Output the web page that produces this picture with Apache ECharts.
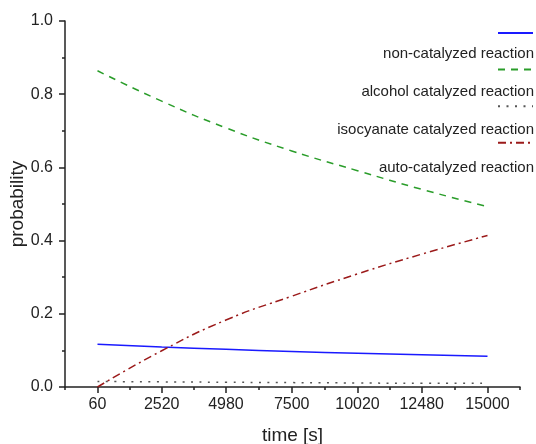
<!DOCTYPE html>
<html>
<head>
<meta charset="utf-8">
<script src="https://cdn.jsdelivr.net/npm/echarts@6/dist/echarts.min.js"></script>
<style>html,body{margin:0;padding:0;background:#fff}#c{width:536px;height:444px}</style>
</head>
<body>
<div id="c"></div>
<script>
// Data
var timeTicks = [60, 2520, 4980, 7500, 10020, 12480, 15000];
var nonCatalyzed = [0.117, 0.109, 0.103, 0.097, 0.092, 0.088, 0.084];
var alcoholCatalyzed = [0.864, 0.781, 0.708, 0.645, 0.591, 0.540, 0.493];
var isocyanateCatalyzed = [0.015, 0.014, 0.013, 0.012, 0.011, 0.010, 0.010];
var autoCatalyzed = [0.000, 0.099, 0.183, 0.248, 0.309, 0.363, 0.414];
var seriesNames = ['non-catalyzed reaction', 'alcohol catalyzed reaction', 'isocyanate catalyzed reaction', 'auto-catalyzed reaction'];

var xMin = -1185, xMax = 16245;
var minorX = [xMin];
for (var i = 0; i < timeTicks.length - 1; i++) minorX.push((timeTicks[i] + timeTicks[i + 1]) / 2);
minorX.push(xMax);

function pairs(vals) { return timeTicks.map(function (t, i) { return [t, vals[i]]; }); }

var FONT = "'Liberation Sans', Arial, sans-serif";
var TXT = '#222';
var chart = echarts.init(document.getElementById('c'), null, { renderer: 'canvas' });
var option = {
  backgroundColor: '#fff',
  animation: false,
  textStyle: { fontFamily: FONT, color: TXT },
  grid: { left: 65, right: 16, top: 21, bottom: 57, containLabel: false, outerBoundsMode: 'none' },
  legend: [
    {
      data: seriesNames,
      orient: 'vertical', right: 2, top: 26, itemGap: 24, padding: 0,
      itemWidth: 35, itemHeight: 14, align: 'left',
      itemStyle: { opacity: 0 },
      formatter: function () { return ''; },
      textStyle: { fontSize: 1 }
    },
    {
      data: seriesNames,
      orient: 'vertical', right: -3, top: 46, itemGap: 23, padding: 0,
      itemWidth: 0, itemHeight: 15, align: 'right', icon: 'rect',
      itemStyle: { opacity: 0 },
      textStyle: { fontFamily: FONT, fontSize: 15, color: TXT, lineHeight: 15 }
    }
  ],
  xAxis: [
    {
      type: 'value', min: xMin, max: xMax,
      name: 'time [s]', nameLocation: 'middle', nameGap: 39, nameMoveOverlap: false,
      nameTextStyle: { fontFamily: FONT, fontSize: 19, color: TXT },
      axisLine: { show: true, onZero: false, lineStyle: { color: TXT, width: 1.5 } },
      axisTick: { show: true, customValues: timeTicks, length: 6, lineStyle: { color: TXT, width: 1.5 } },
      axisLabel: { show: true, customValues: timeTicks, margin: 10, fontFamily: FONT, fontSize: 16, color: TXT,
        formatter: function (v) { return String(v); } },
      splitLine: { show: false }
    },
    {
      type: 'value', min: xMin, max: xMax, position: 'bottom',
      axisLine: { show: false, onZero: false },
      axisTick: { show: true, customValues: minorX, length: 3, lineStyle: { color: TXT, width: 1.5 } },
      axisLabel: { show: false },
      splitLine: { show: false }
    }
  ],
  yAxis: {
    type: 'value', min: 0, max: 1, interval: 0.2,
    name: 'probability', nameLocation: 'middle', nameGap: 38, nameMoveOverlap: false,
    nameTextStyle: { fontFamily: FONT, fontSize: 19, color: TXT },
    axisLine: { show: true, onZero: false, lineStyle: { color: TXT, width: 1.5 } },
    axisTick: { show: true, length: 6, lineStyle: { color: TXT, width: 1.5 } },
    minorTick: { show: true, splitNumber: 2, length: 3, lineStyle: { color: TXT, width: 1.5 } },
    axisLabel: { margin: 12, fontFamily: FONT, fontSize: 16, color: TXT,
      formatter: function (v) { return v.toFixed(1); } },
    splitLine: { show: false }
  },
  series: [
    { name: seriesNames[0], type: 'line', data: pairs(nonCatalyzed), symbol: 'none', smooth: true,
      lineStyle: { color: '#1a1aff', width: 1.5, type: 'solid' }, itemStyle: { color: '#1a1aff' } },
    { name: seriesNames[1], type: 'line', data: pairs(alcoholCatalyzed), symbol: 'none', smooth: true,
      lineStyle: { color: '#2a9d2a', width: 1.5, type: [7, 6] }, itemStyle: { color: '#2a9d2a' } },
    { name: seriesNames[2], type: 'line', data: pairs(isocyanateCatalyzed), symbol: 'none', smooth: true,
      lineStyle: { color: '#555', width: 1.5, type: [2, 6.5] }, itemStyle: { color: '#555' } },
    { name: seriesNames[3], type: 'line', data: pairs(autoCatalyzed), symbol: 'none', smooth: true,
      lineStyle: { color: '#9b1a1a', width: 1.5, type: [8, 4, 2, 4] }, itemStyle: { color: '#9b1a1a' } }
  ]
};
chart.setOption(option);
</script>
</body>
</html>
